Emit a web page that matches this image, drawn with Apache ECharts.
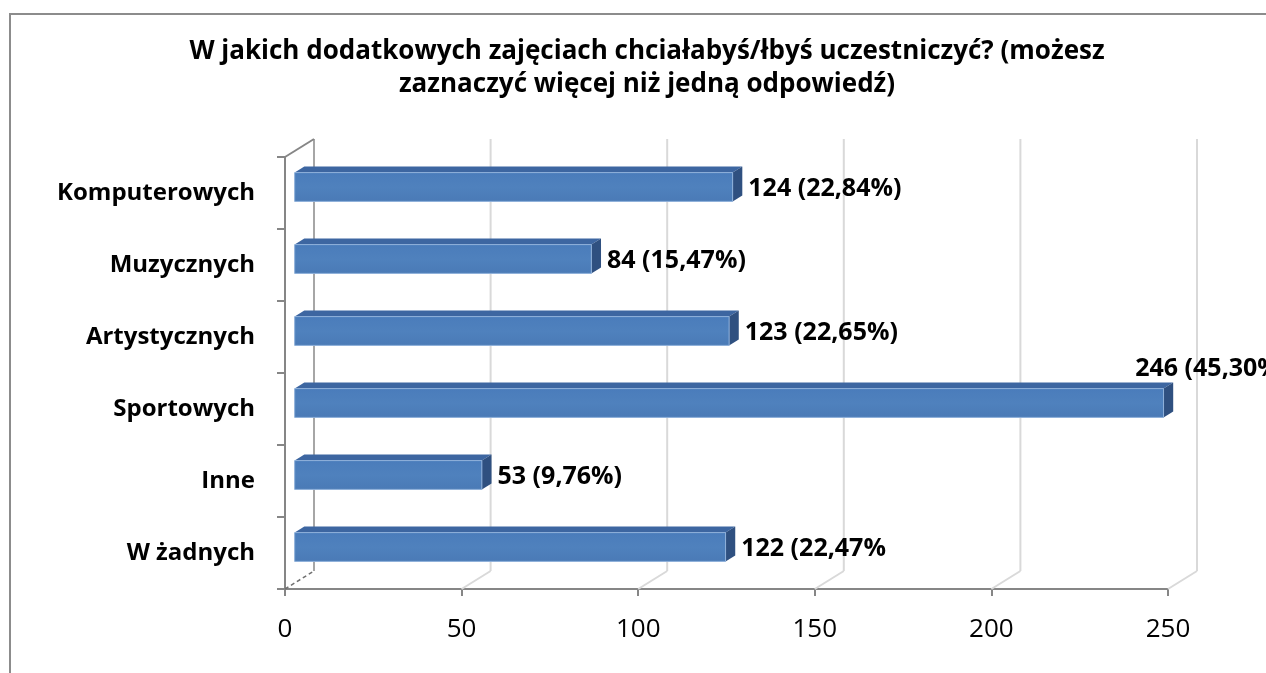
<!DOCTYPE html>
<html>
<head>
<meta charset="utf-8">
<script src="https://cdn.jsdelivr.net/npm/echarts@6/dist/echarts.min.js"></script>
<style>
  html, body { margin: 0; padding: 0; background: #fff; }
  #chart { width: 1266px; height: 673px; }
</style>
</head>
<body>
<div id="chart"></div>
<script>
// dane z wykresu
const categories = ['Komputerowych', 'Muzycznych', 'Artystycznych', 'Sportowych', 'Inne', 'W żadnych'];
const values = [124, 84, 123, 246, 53, 122];
const valueLabels = ['124 (22,84%)', '84 (15,47%)', '123 (22,65%)', '246 (45,30%)', '53 (9,76%)', '122 (22,47%'];
const xTicks = [0, 50, 100, 150, 200, 250];

// glebokosc "3D" (przesuniecie tylnej sciany)
const DX = 29, DY = -18;
const FONT = '"Open Sans", sans-serif';

const chart = echarts.init(document.getElementById('chart'));

function renderGrid(params, api) {
  const cs = params.coordSys;
  const v = api.value(0);
  const x = api.coord([v, 0])[0];
  const bottom = cs.y + cs.height;
  const top = cs.y;
  const children = [];
  children.push({
    type: 'line',
    shape: { x1: x, y1: bottom, x2: x + DX, y2: bottom + DY },
    style: v === 0
      ? { stroke: '#6f6f6f', lineWidth: 1.5, lineDash: [4, 3] }
      : { stroke: '#d9d9d9', lineWidth: 2 }
  });
  children.push({
    type: 'line',
    shape: { x1: x + DX, y1: bottom + DY, x2: x + DX, y2: top + DY },
    style: { stroke: v === 0 ? '#a6a6a6' : '#d9d9d9', lineWidth: 2 }
  });
  if (v === 0) {
    children.push({
      type: 'line',
      shape: { x1: x, y1: top, x2: x + DX, y2: top + DY },
      style: { stroke: '#868686', lineWidth: 2 }
    });
  }
  return { type: 'group', children: children };
}

function renderBar(params, api) {
  const idx = api.value(1);
  const val = api.value(0);
  const p0 = api.coord([0, idx]);
  const p1 = api.coord([val, idx]);
  const band = api.size([0, 1])[1];
  const h = band * 0.4;
  const ox = DX / 3, oy = DY / 3;
  const bx = DX / 3, by = DY / 3;
  const x0 = p0[0] + ox, x1 = p1[0] + ox;
  const yc = p0[1] + oy;
  const yt = yc - h / 2, yb = yc + h / 2;
  const children = [
    {
      type: 'polygon',
      shape: { points: [[x0, yt], [x1, yt], [x1 + bx, yt + by], [x0 + bx, yt + by]] },
      style: { fill: '#3d66a1' }
    },
    {
      type: 'polygon',
      shape: { points: [[x1, yt], [x1 + bx, yt + by], [x1 + bx, yb + by], [x1, yb]] },
      style: { fill: '#2f5080' }
    },
    {
      type: 'rect',
      shape: { x: x0, y: yt, width: x1 - x0, height: h },
      style: {
        fill: new echarts.graphic.LinearGradient(0, 0, 0, 1, [
          { offset: 0, color: '#4a7cbb' },
          { offset: 0.5, color: '#4f81bd' },
          { offset: 1, color: '#4a7ab6' }
        ]),
        stroke: '#8eb0da',
        lineWidth: 1
      }
    }
  ];
  const txt = valueLabels[params.dataIndex];
  const endX = x1 + bx;
  // etykieta nie miesci sie z prawej -> nad slupkiem
  const above = endX + 170 > api.getWidth();
  children.push({
    type: 'text',
    x: above ? endX - 38 : endX + 6,
    y: above ? yt + by - 14 : yc + 2,
    style: {
      text: txt,
      fill: '#000',
      font: 'bold 25px ' + FONT,
      textAlign: 'left',
      textVerticalAlign: 'middle'
    }
  });
  return { type: 'group', children: children };
}

chart.setOption({
  animation: false,
  backgroundColor: '#fff',
  title: {
    text: 'W jakich dodatkowych zajęciach chciałabyś/łbyś uczestniczyć? (możesz\nzaznaczyć więcej niż jedną odpowiedź)',
    left: 642,
    top: 30,
    textAlign: 'center',
    textStyle: {
      fontFamily: FONT,
      fontWeight: 'bold',
      fontSize: 26,
      lineHeight: 33,
      color: '#000'
    }
  },
  graphic: [{
    type: 'rect',
    shape: { x: 10, y: 14, width: 1300, height: 700 },
    style: { fill: 'none', stroke: '#8c8c8c', lineWidth: 2 },
    silent: true
  }],
  grid: { left: 285, right: 98, top: 157, bottom: 84 },
  xAxis: {
    type: 'value',
    min: 0,
    max: 250,
    interval: 50,
    axisLine: { show: true, lineStyle: { color: '#868686', width: 2 } },
    axisTick: { show: true, length: 7, lineStyle: { color: '#868686', width: 2 } },
    splitLine: { show: false },
    axisLabel: { margin: 28, fontFamily: FONT, fontSize: 26, color: '#000' }
  },
  yAxis: {
    type: 'category',
    data: categories,
    inverse: true,
    axisLine: { show: true, lineStyle: { color: '#868686', width: 2 } },
    axisTick: { show: true, length: 8, lineStyle: { color: '#868686', width: 2 } },
    splitLine: { show: false },
    axisLabel: { margin: 30, fontFamily: FONT, fontWeight: 'bold', fontSize: 24, color: '#000' }
  },
  series: [
    {
      type: 'custom',
      name: 'siatka',
      z: 1,
      silent: true,
      clip: false,
      renderItem: renderGrid,
      encode: { x: 0 },
      data: xTicks.map(function (v) { return [v, 0]; })
    },
    {
      type: 'custom',
      name: 'Odpowiedzi',
      z: 3,
      clip: false,
      renderItem: renderBar,
      encode: { x: 0, y: 1 },
      data: values.map(function (v, i) { return [v, i]; })
    }
  ]
});
</script>
</body>
</html>
